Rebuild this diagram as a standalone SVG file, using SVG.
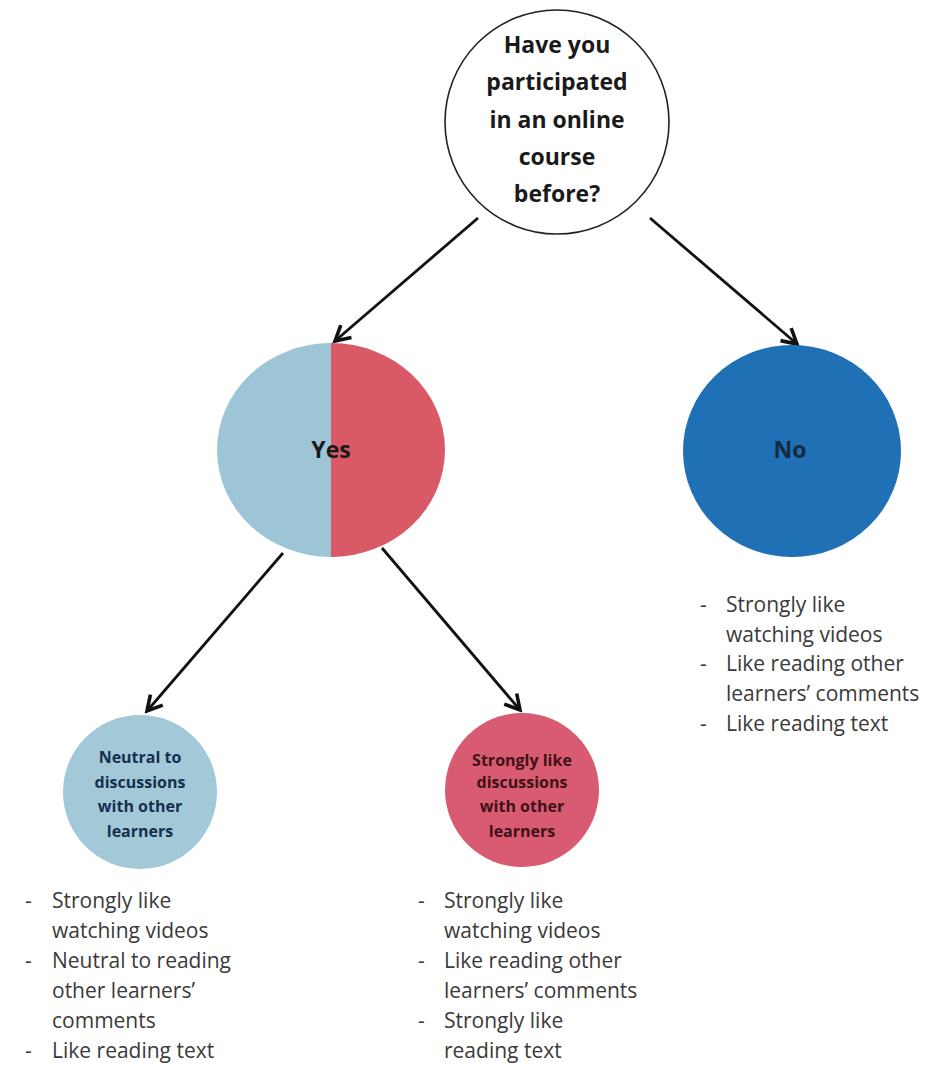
<svg xmlns="http://www.w3.org/2000/svg" width="943" height="1068" viewBox="0 0 943 1068">
<defs>
<marker id="arr" viewBox="0 0 12 12" refX="10" refY="6" markerWidth="7" markerHeight="7" orient="auto" markerUnits="strokeWidth">
<path d="M1,1 L10,6 L1,11" fill="none" stroke="#111" stroke-width="2.2"/>
</marker>
<clipPath id="lh"><rect x="0" y="0" width="331" height="1068"/></clipPath>
<clipPath id="rh"><rect x="331" y="0" width="612" height="1068"/></clipPath>
</defs>
<style>
.q{font-family:"Open Sans","Liberation Sans",sans-serif;font-weight:bold;font-size:23px;fill:#1a1a1a;text-anchor:middle}
.s{font-family:"Open Sans","Liberation Sans",sans-serif;font-weight:bold;font-size:16px;text-anchor:middle}
.b{font-family:"Open Sans","Liberation Sans",sans-serif;font-size:21px;fill:#3a3a3a}
.c{fill:none;stroke:#111;stroke-width:2.8}
</style>
<rect width="943" height="1068" fill="#ffffff"/>
<g id="connectors">
<line class="c" x1="478" y1="218" x2="335" y2="341" marker-end="url(#arr)"/>
<line class="c" x1="650" y1="218" x2="797" y2="344" marker-end="url(#arr)"/>
<line class="c" x1="283" y1="553" x2="147" y2="711" marker-end="url(#arr)"/>
<line class="c" x1="382" y1="548" x2="520" y2="710" marker-end="url(#arr)"/>
</g>
<g id="question">
<circle cx="557" cy="122" r="112" fill="#fff" stroke="#222" stroke-width="1.6"/>
<text class="q" x="557" y="53">Have you</text>
<text class="q" x="557" y="90">participated</text>
<text class="q" x="557" y="128">in an online</text>
<text class="q" x="557" y="165">course</text>
<text class="q" x="557" y="202">before?</text>
</g>
<g id="yes">
<ellipse cx="331" cy="450" rx="114" ry="107" fill="#9ec5d6" clip-path="url(#lh)"/>
<ellipse cx="331" cy="450" rx="114" ry="107" fill="#d95966" clip-path="url(#rh)"/>
<text class="q" x="331" y="458" fill="#1a2a30">Yes</text>
</g>
<g id="no">
<ellipse cx="792" cy="451" rx="109" ry="106" fill="#1f70b4"/>
<text class="q" x="790" y="458" style="fill:#142a44">No</text>
</g>
<g id="neutral">
<circle cx="140" cy="792" r="77" fill="#a3c8d8"/>
<text class="s" x="140" y="763" fill="#14304e">Neutral to</text>
<text class="s" x="140" y="788" fill="#14304e">discussions</text>
<text class="s" x="140" y="812" fill="#14304e">with other</text>
<text class="s" x="140" y="837" fill="#14304e">learners</text>
</g>
<g id="strongly">
<circle cx="522" cy="790" r="77" fill="#d95b72"/>
<text class="s" x="522" y="766" fill="#3e1216">Strongly like</text>
<text class="s" x="522" y="788" fill="#3e1216">discussions</text>
<text class="s" x="522" y="812" fill="#3e1216">with other</text>
<text class="s" x="522" y="837" fill="#3e1216">learners</text>
</g>
<g id="list-no">
<text class="b" x="700" y="612">-</text><text class="b" x="726" y="612">Strongly like</text>
<text class="b" x="726" y="642">watching videos</text>
<text class="b" x="700" y="671">-</text><text class="b" x="726" y="671">Like reading other</text>
<text class="b" x="726" y="701">learners’ comments</text>
<text class="b" x="700" y="731">-</text><text class="b" x="726" y="731">Like reading text</text>
</g>
<g id="list-neutral">
<text class="b" x="25" y="908">-</text><text class="b" x="52" y="908">Strongly like</text>
<text class="b" x="52" y="938">watching videos</text>
<text class="b" x="25" y="968">-</text><text class="b" x="52" y="968">Neutral to reading</text>
<text class="b" x="52" y="998">other learners’</text>
<text class="b" x="52" y="1028">comments</text>
<text class="b" x="25" y="1058">-</text><text class="b" x="52" y="1058">Like reading text</text>
</g>
<g id="list-strongly">
<text class="b" x="418" y="908">-</text><text class="b" x="444" y="908">Strongly like</text>
<text class="b" x="444" y="938">watching videos</text>
<text class="b" x="418" y="968">-</text><text class="b" x="444" y="968">Like reading other</text>
<text class="b" x="444" y="998">learners’ comments</text>
<text class="b" x="418" y="1028">-</text><text class="b" x="444" y="1028">Strongly like</text>
<text class="b" x="444" y="1058">reading text</text>
</g>
</svg>
